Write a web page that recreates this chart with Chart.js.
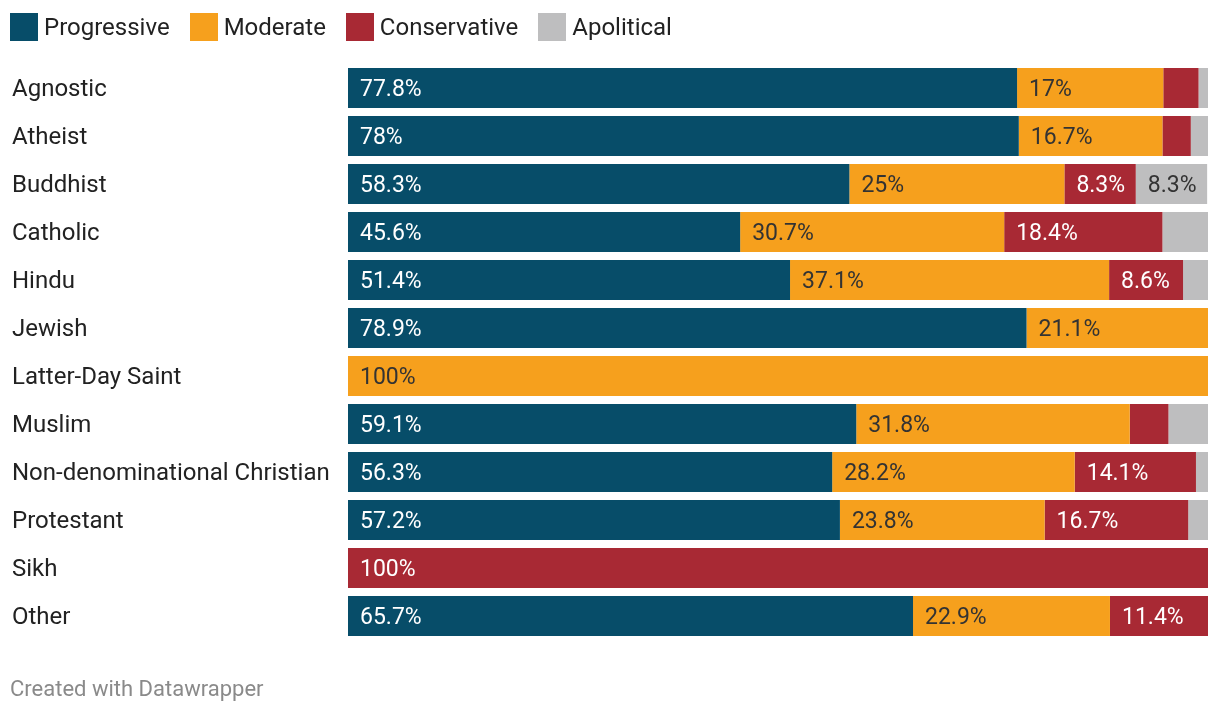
<!DOCTYPE html>
<html><head><meta charset="utf-8">
<script src="https://cdn.jsdelivr.net/npm/chart.js@4"></script>
<style>
html,body{margin:0;padding:0;background:#fff;width:1220px;height:714px;overflow:hidden;font-family:Roboto,sans-serif;}
#wrap{position:absolute;left:0;top:0;width:1220px;height:714px;}
#legend{position:absolute;left:10px;top:13px;display:flex;align-items:center;font-size:24px;color:#222;}
.item{display:flex;align-items:center;margin-right:20px;}
.sw{width:28px;height:28px;margin-right:6px;}
#foot{position:absolute;left:10px;top:676px;font-size:22px;color:#8a8a8a;}
</style></head>
<body>
<div id="wrap"><canvas id="c" width="1220" height="714"></canvas></div>
<div id="legend"></div>
<div id="foot">Created with Datawrapper</div>
<script>
const categories = ["Agnostic","Atheist","Buddhist","Catholic","Hindu","Jewish","Latter-Day Saint","Muslim","Non-denominational Christian","Protestant","Sikh","Other"];
const seriesNames = ["Progressive","Moderate","Conservative","Apolitical"];
const progressive = [77.8,78,58.3,45.6,51.4,78.9,0,59.1,56.3,57.2,0,65.7];
const moderate    = [17,16.7,25,30.7,37.1,21.1,100,31.8,28.2,23.8,0,22.9];
const conservative= [4.1,3.3,8.3,18.4,8.6,0,0,4.5,14.1,16.7,100,11.4];
const apolitical  = [1.1,2.0,8.3,5.3,2.9,0,0,4.6,1.4,2.3,0,0];
const colors = ["#074d69","#f6a01d","#a82934","#bebebf"];
const labelColors = ["#ffffff","#333333","#ffffff","#333333"];
const series = [progressive, moderate, conservative, apolitical];

const leg = document.getElementById('legend');
seriesNames.forEach((n,i)=>{
  const d=document.createElement('div');d.className='item';
  d.innerHTML='<div class="sw" style="background:'+colors[i]+'"></div><span>'+n+'</span>';
  leg.appendChild(d);
});

const labelPlugin = {
  id:'segLabels',
  afterDatasetsDraw(chart){
    const ctx=chart.ctx;
    ctx.save();
    ctx.font='23px Roboto, sans-serif';
    ctx.textBaseline='middle';
    ctx.textAlign='left';
    chart.data.datasets.forEach((ds,di)=>{
      const meta=chart.getDatasetMeta(di);
      meta.data.forEach((bar,i)=>{
        const v=ds.data[i];
        if(!v || v<6) return;
        const left=Math.min(bar.x,bar.base);
        ctx.fillStyle=labelColors[di];
        ctx.fillText(v+'%', left+12, bar.y+2);
      });
    });
    ctx.restore();
  }
};

new Chart(document.getElementById('c'),{
  type:'bar',
  data:{
    labels:categories,
    datasets:series.map((s,i)=>({label:seriesNames[i],data:s,backgroundColor:colors[i],borderWidth:0,categoryPercentage:1,barPercentage:40/48}))
  },
  options:{
    indexAxis:'y',
    responsive:false,
    animation:false,
    layout:{padding:{left:12,right:12,top:64,bottom:74}},
    plugins:{legend:{display:false},tooltip:{enabled:false}},
    scales:{
      x:{stacked:true,min:0,max:100,display:false},
      y:{stacked:true,grid:{display:false},border:{display:false},
         ticks:{crossAlign:'far',color:'#222',font:{family:'Roboto',size:24},padding:0,labelOffset:2},
         afterFit(s){s.width=336;}}
    }
  },
  plugins:[labelPlugin]
});
</script>
</body></html>
